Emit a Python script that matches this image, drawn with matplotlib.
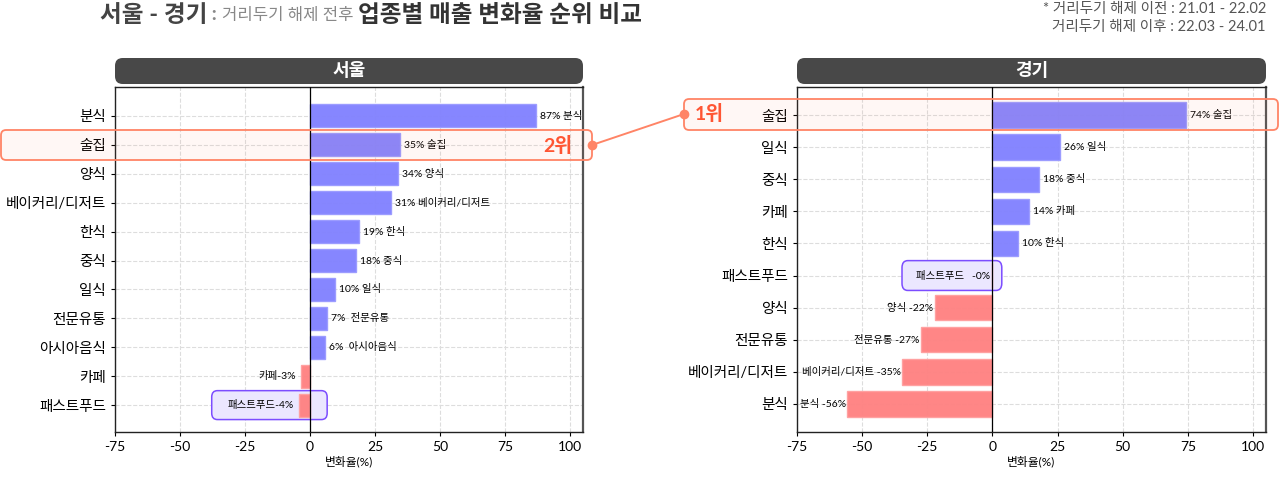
import matplotlib.pyplot as plt
from matplotlib.patches import FancyBboxPatch
from matplotlib.lines import Line2D

plt.rcParams['font.family'] = ['Lato', 'Noto Sans CJK KR', 'DejaVu Sans']
plt.rcParams['axes.unicode_minus'] = False

# 서울 데이터
seoul_cat = ["분식", "술집", "양식", "베이커리/디저트", "한식", "중식", "일식", "전문유통", "아시아음식", "카페", "패스트푸드"]
seoul_val = [86.9, 34.6, 33.8, 31.2, 18.7, 17.6, 9.8, 6.6, 5.7, -3.3, -4.4]

# 경기 데이터
gyeonggi_cat = ["술집", "일식", "중식", "카페", "한식", "패스트푸드", "양식", "전문유통", "베이커리/디저트", "분식"]
gyeonggi_val = [74.3, 26.0, 17.8, 13.9, 10.0, -0.2, -22.1, -27.3, -34.6, -55.7]

xticks = [-75, -50, -25, 0, 25, 50, 75, 100]

W, H = 1280, 478
POS = "#8080ff"
NEG = "#ff8080"
CORAL = "#ff8466"
RANK = "#ff5533"


def px(x, y):
    """픽셀 좌표 -> figure 비율"""
    return x / W, 1 - y / H


def draw_panel(ax, cats, vals, sep_neg, box_x, box_h, neg_off):
    ys = list(range(len(cats)))
    colors = [POS if v >= 0 else NEG for v in vals]
    edges = ["#9a9aff" if v >= 0 else "#ffa0a0" for v in vals]
    ax.barh(ys, vals, height=0.8, color=colors, edgecolor=edges, linewidth=1,
            alpha=0.95, zorder=3)
    ax.axvline(0, color="black", lw=0.9, zorder=4)
    for y, v, c in zip(ys, vals, cats):
        if c == "패스트푸드":
            continue
        if v >= 0:
            txt = f"{v:.0f}%".ljust(4) + c
            ax.text(v + 1.5, y, txt, va="center", ha="left", fontsize=7.5, zorder=6)
        else:
            txt = f"{c}{sep_neg}{v:.0f}%"
            ax.text(v - neg_off, y, txt, va="center", ha="right", fontsize=7.5, zorder=6)
    # 패스트푸드 강조 박스
    i = cats.index("패스트푸드")
    v = vals[i]
    box = FancyBboxPatch((box_x[0], i - box_h / 2), box_x[1] - box_x[0], box_h,
                         boxstyle="round,pad=0,rounding_size=2.2",
                         mutation_aspect=0.1,
                         facecolor="#ebe7ff", edgecolor="#7c4dff", lw=1.1, zorder=2.5)
    ax.add_patch(box)
    ff_txt = f"패스트푸드{v:.0f}%" if sep_neg == "" else f"패스트푸드   {v:.0f}%"
    ax.text(min(v, 0) - neg_off, i, ff_txt, va="center", ha="right", fontsize=7.5, zorder=6)

    ax.set_yticks(ys)
    ax.set_yticklabels(cats, fontsize=10.5)
    ax.set_xlim(-75, 105)
    ax.set_xticks(xticks)
    ax.tick_params(axis="x", labelsize=10, length=3)
    ax.tick_params(axis="y", length=3)
    ax.set_xlabel("변화율(%)", fontsize=8.5, labelpad=2)
    ax.grid(True, ls="--", color="#dddddd", lw=0.8, zorder=0)
    ax.set_axisbelow(True)
    for s in ax.spines.values():
        s.set_color("#222222")
        s.set_linewidth(1.0)
    ax.spines["right"].set_color("#555555")
    ax.spines["right"].set_linewidth(1.6)


fig = plt.figure(figsize=(12.8, 4.78), dpi=100)

ax1 = fig.add_axes([115 / W, 46 / H, 468 / W, 345 / H])
ax2 = fig.add_axes([797 / W, 46 / H, 469 / W, 345 / H])

draw_panel(ax1, seoul_cat, seoul_val, "", (-37.8, 6.6), 1.0, 2.0)
ax1.set_ylim(10.93, -1.0)
draw_panel(ax2, gyeonggi_cat, gyeonggi_val, " ", (-34.7, 3.6), 0.93, 0.6)
ax2.set_ylim(9.88, -0.88)

# 패널 제목 박스
for (x0, x1), name in [((115, 583), "서울"), ((797, 1266), "경기")]:
    fx0, fy0 = px(x0, 84)
    fx1, fy1 = px(x1, 58)
    head = FancyBboxPatch((fx0, fy0), fx1 - fx0, fy1 - fy0, transform=fig.transFigure,
                          boxstyle="round,pad=0,rounding_size=0.006", mutation_aspect=2.7,
                          facecolor="#484848", edgecolor="none")
    fig.patches.append(head)
    fig.text((fx0 + fx1) / 2, (fy0 + fy1) / 2, name, color="white", fontsize=13,
             fontweight="bold", ha="center", va="center")

# 순위 강조 박스
for (x0, y0, x1, y1) in [(1, 130, 592, 160), (684, 99, 1278, 130)]:
    fx0, fy0 = px(x0, y1)
    fx1, fy1 = px(x1, y0)
    hl = FancyBboxPatch((fx0, fy0), fx1 - fx0, fy1 - fy0, transform=fig.transFigure,
                        boxstyle="round,pad=0,rounding_size=0.004", mutation_aspect=2.7,
                        facecolor=(1.0, 0.5, 0.35, 0.06), edgecolor=CORAL, lw=1.3, zorder=10)
    fig.patches.append(hl)

fig.text(*px(558, 145), "2위", color=RANK, fontsize=14, fontweight="bold",
         ha="center", va="center", zorder=11)
fig.text(*px(709, 114), "1위", color=RANK, fontsize=14, fontweight="bold",
         ha="center", va="center", zorder=11)

ax, ay = px(592, 145)
bx, by = px(684, 114)
fig.lines.append(Line2D([ax, bx], [ay, by], transform=fig.transFigure, color=CORAL,
                        lw=1.4, marker="o", markersize=6, zorder=11))

# 제목
fig.canvas.draw()
r = fig.canvas.get_renderer()
parts = [("서울 - 경기", 17, "bold", "#444444"),
         (" : ", 14, "bold", "#888888"),
         ("거리두기 해제 전후 ", 12, "normal", "#888888"),
         ("업종별 매출 변화율 순위 비교", 17, "bold", "#333333")]
x = 100 / W
ty = px(0, 15)[1]
for s, size, wt, col in parts:
    t = fig.text(x, ty, s, fontsize=size, fontweight=wt, color=col, ha="left", va="center")
    bb = t.get_window_extent(renderer=r)
    x += bb.width / W

fig.text(*px(1266, 9), "* 거리두기 해제 이전 : 21.01 - 22.02", fontsize=10.5, color="#555555",
         ha="right", va="center")
fig.text(*px(1266, 27), "거리두기 해제 이후 : 22.03 - 24.01", fontsize=10.5, color="#555555",
         ha="right", va="center")

fig.savefig("out.png", dpi=100)
